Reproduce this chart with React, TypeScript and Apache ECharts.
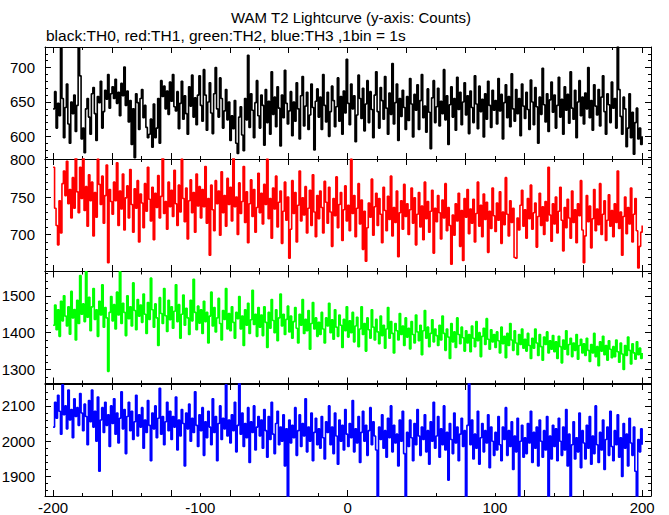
import React, { useEffect, useRef } from "react";
import * as echarts from "echarts";

// ---- data: 1 s bins, first bin starts at -200 s ----
const BIN_START = -200;

const th0 = [
  640, 665, 612, 648, 630, 728, 655, 598, 642, 676, 618, 590, 650, 633, 660, 607, 645, 729, 688, 596,
  612, 576, 640, 655, 628, 603, 662, 671, 633, 594, 658, 649, 680, 612, 636, 667, 654, 690, 641, 662,
  672, 655, 683, 648, 664, 630, 677, 659, 701, 645, 666, 621, 652, 588, 640, 569, 662, 649, 610, 655,
  668, 627, 645, 613, 598, 603, 625, 584, 647, 598, 612, 655, 590, 681, 658, 673, 640, 666, 632, 679,
  651, 690, 643, 637, 665, 611, 648, 680, 625, 659, 633, 603, 672, 644, 689, 628, 656, 617, 660, 688,
  645, 622, 697, 660, 609, 650, 678, 634, 604, 662, 700, 640, 628, 685, 655, 612, 637, 668, 624, 650,
  594, 630, 611, 652, 590, 575, 628, 643, 602, 579, 655, 624, 718, 613, 662, 638, 598, 649, 681, 630,
  612, 660, 645, 587, 668, 620, 651, 603, 694, 632, 657, 614, 672, 641, 586, 660, 627, 696, 648, 618,
  637, 665, 601, 650, 622, 678, 640, 596, 659, 687, 615, 644, 664, 610, 631, 676, 642, 580, 651, 669,
  628, 657, 610, 690, 645, 621, 664, 600, 636, 673, 652, 614, 643, 685, 622, 658, 603, 666, 634, 712,
  648, 617, 676, 640, 659, 592, 631, 689, 655, 626, 670, 608, 647, 681, 620, 665, 639, 598, 660, 694,
  636, 612, 671, 652, 625, 687, 641, 603, 663, 632, 706, 618, 649, 676, 594, 655, 629, 667, 642, 610,
  658, 623, 684, 647, 599, 661, 638, 675, 610, 652, 690, 627, 644, 606, 669, 635, 582, 656, 681, 620,
  643, 670, 615, 651, 633, 697, 624, 659, 588, 646, 672, 628, 655, 609, 686, 639, 664, 617, 650, 678,
  631, 659, 604, 666, 642, 620, 688, 647, 611, 673, 636, 654, 599, 662, 625, 680, 645, 613, 667, 638,
  652, 618, 684, 637, 661, 596, 649, 675, 627, 658, 614, 691, 640, 622, 668, 633, 655, 601, 676, 644,
  626, 664, 639, 610, 682, 650, 617, 671, 643, 590, 657, 632, 699, 646, 621, 662, 607, 653, 679, 635,
  660, 612, 645, 686, 628, 654, 603, 672, 638, 661, 619, 694, 641, 625, 667, 598, 650, 681, 630, 657,
  618, 663, 640, 700, 627, 652, 609, 675, 644, 631, 668, 615, 657, 688, 636, 603, 662, 646, 620, 679,
  641, 655, 612, 730, 668, 629, 603, 657, 640, 585, 612, 662, 598, 635, 574, 620, 641, 596, 612, 588,
  600,
];

const th1 = [
  790, 735, 712, 686, 745, 702, 768, 785, 752, 798, 741, 760, 722, 776, 735, 803, 757, 729, 790, 748,
  805, 732, 764, 711, 780, 745, 770, 698, 756, 723, 801, 767, 740, 778, 715, 752, 793, 662, 760, 744,
  727, 770, 745, 796, 712, 758, 734, 781, 706, 749, 765, 722, 787, 740, 703, 761, 735, 772, 690, 754,
  742, 709, 768, 731, 790, 747, 718, 763, 693, 755, 736, 779, 722, 751, 804, 728, 744, 707, 770, 737,
  759, 724, 786, 741, 712, 766, 730, 801, 748, 717, 762, 694, 745, 773, 729, 756, 703, 781, 738, 764,
  722, 760, 737, 791, 715, 748, 672, 766, 733, 705, 772, 741, 758, 699, 784, 729, 752, 711, 775, 740,
  763, 718, 806, 737, 750, 700, 769, 728, 744, 791, 716, 757, 689, 741, 773, 724, 760, 703, 736, 782,
  729, 755, 714, 767, 740, 801, 721, 748, 695, 762, 734, 778, 710, 743, 758, 688, 731, 770, 719, 750,
  668, 707, 772, 728, 756, 690, 739, 785, 718, 749, 726, 764, 702, 735, 759, 712, 780, 730, 697, 752,
  721, 758, 736, 702, 771, 743, 715, 763, 730, 684, 748, 725, 777, 709, 740, 756, 692, 733, 765, 718,
  739, 705, 801, 728, 752, 697, 735, 768, 714, 746, 680, 731, 664, 709, 742, 723, 774, 699, 737, 755,
  712, 748, 727, 689, 763, 732, 705, 751, 720, 778, 698, 736, 716, 758, 670, 729, 745, 707, 767, 724,
  741, 700, 733, 762, 715, 749, 686, 727, 756, 710, 738, 693, 770, 721, 744, 703, 731, 759, 675, 735,
  717, 752, 729, 694, 746, 722, 768, 705, 736, 712, 660, 726, 699, 741, 718, 755, 684, 732, 665, 748,
  723, 760, 701, 734, 715, 747, 690, 728, 770, 711, 739, 697, 754, 720, 743, 676, 731, 708, 762, 725,
  704, 742, 719, 757, 688, 730, 713, 776, 727, 698, 745, 716, 735, 669, 668, 722, 706, 739, 759, 711,
  733, 695, 748, 721, 766, 707, 729, 742, 683, 724, 755, 712, 737, 700, 744, 718, 790, 726, 691, 741,
  714, 750, 702, 731, 763, 719, 678, 736, 709, 747, 722, 695, 758, 716, 733, 689, 741, 725, 772, 706,
  662, 698, 752, 717, 738, 682, 721, 760, 705, 734, 713, 768, 700, 727, 745, 692, 719, 753, 711, 732,
  697, 741, 716, 785, 708, 730, 672, 724, 750, 701, 736, 714, 762, 690, 727, 748, 705, 655, 684, 703,
  712,
];

const th2 = [
  1420, 1475, 1408, 1462, 1390, 1485, 1432, 1500, 1445, 1418, 1470, 1396, 1512, 1440, 1463, 1380, 1488, 1425, 1555, 1450,
  1478, 1430, 1565, 1442, 1496, 1405, 1470, 1520, 1436, 1462, 1390, 1485, 1448, 1530, 1415, 1468, 1440, 1295, 1455, 1498,
  1432, 1476, 1410, 1510, 1448, 1565, 1425, 1480, 1455, 1392, 1500, 1438, 1470, 1418, 1535, 1460, 1408, 1490, 1445, 1475,
  1428, 1505, 1450, 1398, 1482, 1436, 1548, 1462, 1415, 1478, 1440, 1365, 1495, 1452, 1425, 1520, 1446, 1403, 1488, 1435,
  1470, 1412, 1458, 1530, 1430, 1476, 1385, 1450, 1502, 1420, 1466, 1440, 1395, 1488, 1432, 1545, 1455, 1408, 1472, 1426,
  1462, 1398, 1485, 1430, 1455, 1372, 1445, 1510, 1418, 1468, 1402, 1440, 1493, 1425, 1380, 1460, 1436, 1520, 1410, 1452,
  1405, 1470, 1428, 1385, 1455, 1438, 1498, 1410, 1445, 1365, 1462, 1420, 1480, 1398, 1435, 1515, 1422, 1450, 1390, 1468,
  1415, 1448, 1392, 1470, 1428, 1360, 1455, 1412, 1490, 1433, 1400, 1462, 1378, 1440, 1505, 1418, 1450, 1395, 1436, 1472,
  1402, 1445, 1385, 1430, 1468, 1412, 1372, 1450, 1420, 1490, 1398, 1436, 1405, 1460, 1355, 1425, 1482, 1410, 1440, 1390,
  1428, 1395, 1455, 1410, 1372, 1440, 1418, 1480, 1400, 1435, 1382, 1462, 1415, 1390, 1448, 1420, 1360, 1436, 1405, 1470,
  1388, 1432, 1400, 1455, 1375, 1418, 1442, 1362, 1410, 1470, 1395, 1425, 1350, 1440, 1408, 1385, 1462, 1415, 1380, 1436,
  1402, 1370, 1445, 1392, 1420, 1358, 1410, 1468, 1385, 1430, 1398, 1345, 1425, 1405, 1380, 1452, 1395, 1418, 1365, 1440,
  1388, 1412, 1356, 1430, 1395, 1372, 1448, 1402, 1378, 1420, 1340, 1405, 1460, 1385, 1415, 1362, 1398, 1435, 1375, 1410,
  1392, 1365, 1420, 1380, 1445, 1398, 1352, 1410, 1388, 1330, 1425, 1375, 1402, 1360, 1440, 1395, 1370, 1415, 1386, 1350,
  1405, 1372, 1395, 1348, 1418, 1385, 1362, 1430, 1378, 1400, 1335, 1390, 1412, 1368, 1438, 1382, 1355, 1408, 1375, 1395,
  1360, 1402, 1378, 1345, 1415, 1370, 1390, 1332, 1398, 1365, 1425, 1380, 1352, 1405, 1372, 1340, 1395, 1368, 1410, 1358,
  1382, 1350, 1398, 1365, 1330, 1385, 1358, 1410, 1372, 1338, 1395, 1362, 1325, 1388, 1368, 1402, 1345, 1378, 1355, 1392,
  1348, 1375, 1330, 1390, 1362, 1318, 1380, 1355, 1405, 1340, 1368, 1385, 1335, 1372, 1352, 1395, 1328, 1365, 1382, 1345,
  1370, 1338, 1385, 1352, 1322, 1368, 1345, 1398, 1335, 1362, 1310, 1375, 1350, 1390, 1340, 1365, 1325, 1378, 1355, 1332,
  1362, 1335, 1380, 1348, 1320, 1372, 1342, 1300, 1365, 1338, 1388, 1352, 1315, 1370, 1345, 1328, 1375, 1340, 1358, 1330,
  1345,
];

const th3 = [
  2040, 2110, 2065, 2130, 2085, 2020, 2160, 2075, 2100, 2035, 2145, 2060, 2090, 2010, 2120, 2070, 2095, 2045, 2135, 2080,
  2030, 2105, 2070, 1990, 2115, 2055, 2145, 2040, 2085, 2000, 2125, 1915, 2060, 2095, 2025, 2110, 2045, 2075, 1985, 2100,
  2050, 2120, 2020, 2080, 1995, 2065, 2140, 2035, 2090, 1965, 2070, 2110, 2030, 2085, 2005, 2055, 2130, 2015, 2075, 2040,
  2095, 1980, 2060, 2025, 2115, 2045, 1945, 2080, 2035, 2100, 2010, 2065, 2150, 2020, 2070, 1990, 2055, 2110, 2030, 2085,
  2005, 2070, 2040, 2125, 1975, 2060, 2015, 2090, 2050, 1930, 2080, 2035, 2105, 2000, 2065, 2025, 2140, 2045, 1985, 2075,
  2030, 2095, 1960, 2055, 2010, 2085, 2040, 1990, 2120, 2025, 2070, 1945, 2050, 2100, 2005, 2065, 2035, 2160, 2015, 2060,
  1995, 2075, 2030, 2110, 1970, 2045, 2165, 2020, 2080, 1985, 2050, 2010, 2095, 1940, 2055, 2025, 2100, 1975, 2040, 2070,
  2015, 2060, 1980, 2090, 2030, 1955, 2070, 2005, 2110, 2020, 1965, 2050, 2085, 1990, 2040, 2000, 2075, 1930, 2035, 1840,
  2060, 1995, 2045, 2010, 2095, 1960, 2030, 2075, 1985, 2050, 2015, 2120, 1970, 2040, 2000, 2080, 1945, 2025, 2065, 1990,
  2035, 1980, 2070, 2010, 1950, 2055, 2025, 2100, 1990, 2040, 1965, 2080, 2015, 1935, 2060, 2000, 2045, 1975, 2090, 2020,
  1985, 2050, 2010, 2115, 1970, 2035, 1995, 2070, 1940, 2025, 2085, 2000, 2045, 1960, 2030, 2095, 1990, 2055, 2015, 1975,
  1840, 2040, 2005, 2075, 1980, 2030, 1955, 2065, 2010, 2100, 1970, 2045, 1995, 2020, 1930, 2060, 2000, 2085, 1965, 1840,
  2025, 1985, 2060, 2010, 1945, 2050, 1990, 2090, 2015, 1960, 2040, 2005, 2075, 1970, 2030, 1935, 2055, 2000, 2110, 1980,
  2015, 2070, 1955, 2035, 1990, 2100, 1975, 2025, 1890, 2050, 2005, 1965, 2080, 1995, 2040, 1945, 2020, 2065, 1985, 2030,
  1840, 2045, 2165, 1990, 2060, 1950, 2020, 1980, 2085, 1935, 2010, 2050, 1970, 2030, 1995, 2075, 1925, 2040, 2000, 1960,
  2025, 1975, 2070, 1990, 1945, 2040, 2005, 2095, 1960, 2030, 1985, 2055, 1920, 2015, 1970, 2065, 1840, 2000, 2045, 1955,
  2010, 1965, 2050, 1995, 2085, 1940, 2025, 1980, 2040, 1930, 2060, 2000, 1955, 2030, 1975, 2070, 1840, 2015, 1950, 2045,
  1985, 2035, 1945, 2065, 2000, 1960, 2040, 1975, 2090, 1930, 2020, 1840, 1990, 2055, 1950, 2010, 1970, 2080, 1925, 2030,
  1995, 1950, 2045, 1980, 2070, 1935, 2015, 1965, 2100, 1990, 1940, 2025, 1975, 2060, 1920, 2005, 2040, 1960, 2085, 1985,
  1945, 2030, 1990, 2075, 1955, 2010, 1900, 2050, 1980, 2020, 1930, 2065, 1995, 1960, 2040, 1915, 1840, 2005, 1970, 2035,
  1990,
];

// ---- axes / ticks ----
const X_LABELS = [-200, -100, 0, 100, 200];
const X_TICKS_LONG = [-200, -160, -120, -80, -40, 0, 40, 80, 120, 160, 200];
const X_TICKS_SHORT = [-180, -140, -100, -60, -20, 20, 60, 100, 140, 180];

const Y_LABELS = [
  [600, 650, 700],
  [700, 750, 800],
  [1300, 1400, 1500],
  [1900, 2000, 2100],
];
const Y_MINOR = [
  [570, 580, 590, 610, 620, 630, 640, 660, 670, 680, 690, 710, 720, 730],
  [660, 670, 680, 690, 710, 720, 730, 740, 760, 770, 780, 790],
  [1280, 1320, 1340, 1360, 1380, 1420, 1440, 1460, 1480, 1520, 1540, 1560],
  [1860, 1880, 1920, 1940, 1960, 1980, 2020, 2040, 2060, 2080, 2120, 2140, 2160],
];
const Y_RANGES = [
  [567, 730],
  [651, 801],
  [1262, 1566],
  [1845, 2162],
];

const SERIES = [
  { name: "TH0", values: th0, color: "#000000" },
  { name: "TH1", values: th1, color: "#ff0000" },
  { name: "TH2", values: th2, color: "#00ff00" },
  { name: "TH3", values: th3, color: "#0000ff" },
];

const TITLE = "WAM T2 Lightcurve (y-axis: Counts)";
const SUBTITLE = "black:TH0, red:TH1, green:TH2, blue:TH3 ,1bin = 1s";

const X_MIN = -205.5;
const X_MAX = 206;
const GRID_TOPS = [47, 159, 271.5, 384];
const FONT = '"Liberation Sans", Arial, Helvetica, sans-serif';

function plain(v: number) {
  return String(v);
}

function buildOption() {
  const grids: any[] = [];
  const xAxes: any[] = [];
  const yAxes: any[] = [];
  const series: any[] = [];
  const black = "#000000";

  GRID_TOPS.forEach((top, i) => {
    grids.push({ left: 45, width: 606, top, height: 112, containLabel: false, outerBoundsMode: "none" });

    const xCommon = {
      gridIndex: i,
      type: "value",
      min: X_MIN,
      max: X_MAX,
      splitLine: { show: false },
      axisPointer: { show: false },
    };
    const lastPanel = i === GRID_TOPS.length - 1;
    ["bottom", "top"].forEach((pos) => {
      xAxes.push({
        ...xCommon,
        position: pos,
        axisLine: { show: true, onZero: false, lineStyle: { color: black, width: 1 } },
        axisTick: { show: true, inside: true, length: 6, customValues: X_TICKS_LONG, lineStyle: { color: black, width: 1 } },
        axisLabel:
          pos === "bottom" && lastPanel
            ? { show: true, customValues: X_LABELS, formatter: plain, color: black, fontSize: 15, fontFamily: FONT, margin: 4 }
            : { show: false },
      });
      xAxes.push({
        ...xCommon,
        position: pos,
        axisLine: { show: false, onZero: false },
        axisTick: { show: true, inside: true, length: 3, customValues: X_TICKS_SHORT, lineStyle: { color: black, width: 1 } },
        axisLabel: { show: false },
      });
    });

    const yCommon = {
      gridIndex: i,
      type: "value",
      min: Y_RANGES[i][0],
      max: Y_RANGES[i][1],
      splitLine: { show: false },
      axisPointer: { show: false },
    };
    ["left", "right"].forEach((pos) => {
      yAxes.push({
        ...yCommon,
        position: pos,
        axisLine: { show: true, onZero: false, lineStyle: { color: black, width: 1 } },
        axisTick: { show: true, inside: true, length: 6, customValues: Y_LABELS[i], lineStyle: { color: black, width: 1 } },
        axisLabel:
          pos === "left"
            ? { show: true, customValues: Y_LABELS[i], formatter: plain, color: black, fontSize: 15, fontFamily: FONT, margin: 10 }
            : { show: false },
      });
      yAxes.push({
        ...yCommon,
        position: pos,
        axisLine: { show: false, onZero: false },
        axisTick: { show: true, inside: true, length: 3, customValues: Y_MINOR[i], lineStyle: { color: black, width: 1 } },
        axisLabel: { show: false },
      });
    });

    const s = SERIES[i];
    series.push({
      name: s.name,
      type: "line",
      xAxisIndex: i * 4,
      yAxisIndex: i * 4,
      data: s.values.map((v, k) => [BIN_START + k, v]),
      step: "end",
      showSymbol: false,
      symbol: "none",
      clip: true,
      silent: true,
      lineStyle: { color: s.color, width: 1.6 },
      itemStyle: { color: s.color },
    });
  });

  return {
    animation: false,
    backgroundColor: "#ffffff",
    grid: grids,
    xAxis: xAxes,
    yAxis: yAxes,
    series,
    graphic: [
      {
        type: "text",
        x: 351,
        y: 17,
        style: {
          text: TITLE,
          fill: black,
          font: `15px ${FONT}`,
          align: "center",
          verticalAlign: "middle",
          textAlign: "center",
          textVerticalAlign: "middle",
        },
      },
      {
        type: "text",
        x: 46,
        y: 35,
        style: {
          text: SUBTITLE,
          fill: black,
          font: `15.5px ${FONT}`,
          align: "left",
          verticalAlign: "middle",
          textAlign: "left",
          textVerticalAlign: "middle",
        },
      },
    ],
  };
}

export default function App() {
  const ref = useRef<HTMLDivElement>(null);
  useEffect(() => {
    if (!ref.current) return;
    const chart = echarts.init(ref.current, null, { renderer: "svg" });
    chart.setOption(buildOption() as any);
    return () => chart.dispose();
  }, []);
  return (
    <div
      ref={ref}
      style={{ position: "fixed", left: 0, top: 0, width: 669, height: 515, background: "#fff" }}
    />
  );
}
